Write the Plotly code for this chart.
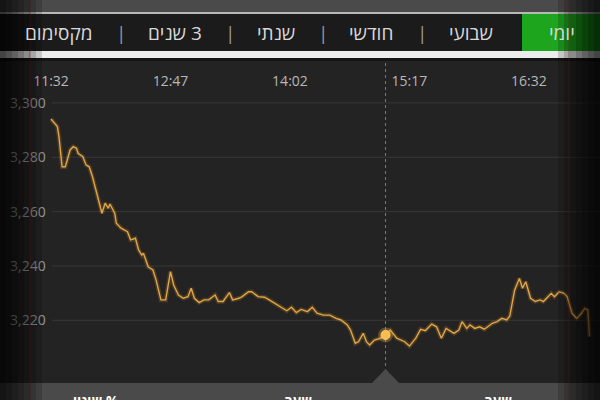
import plotly.graph_objects as go

DAY = "2024-01-01 "

TIMES = ["11:32","11:35","11:36","11:37","11:39","11:41","11:44","11:46","11:48","11:49",
         "11:52","11:54","11:56","11:58","12:02","12:04","12:06","12:08","12:09","12:12",
         "12:13","12:16","12:20","12:22","12:25","12:27","12:29","12:30","12:33","12:36",
         "12:38","12:41","12:44","12:47","12:49","12:52","12:55","12:58","13:00","13:02",
         "13:05","13:08","13:11","13:15","13:17","13:20","13:24","13:26","13:30","13:32",
         "13:36","13:38","13:42","13:46","13:49","13:54","13:58","14:00","14:03","14:06",
         "14:09","14:13","14:16","14:19","14:23","14:27","14:31","14:34","14:38","14:40",
         "14:43","14:45","14:48","14:50","14:52","14:55","14:59","15:02","15:05","15:09",
         "15:14","15:17","15:21","15:24","15:27","15:31","15:34","15:37","15:40","15:45",
         "15:48","15:50","15:53","15:55","15:58","16:01","16:04","16:09","16:12","16:15",
         "16:18","16:20","16:23","16:26","16:28","16:30","16:33","16:36","16:39","16:41",
         "16:44","16:46","16:48","16:51","16:54","16:56","16:59","17:02","17:05","17:07",
         "17:09","17:10"]

VALUES = [3294.1,3291.9,3291.3,3287.6,3276.5,3276.5,3282.7,3283.9,3283.3,3281.5,
          3280.2,3277.2,3276.5,3272.9,3264.3,3259.4,3263.1,3261.2,3262.8,3259.4,
          3255.7,3253.9,3252.6,3249.6,3250.2,3245.9,3244.0,3244.7,3239.7,3238.5,
          3234.8,3227.5,3227.5,3237.9,3233.0,3229.3,3228.1,3228.7,3231.8,3228.1,
          3226.5,3227.5,3227.5,3229.3,3226.9,3226.9,3230.2,3227.5,3228.1,3228.7,
          3230.5,3230.5,3228.7,3228.5,3227.5,3225.6,3224.4,3223.5,3224.8,3222.8,
          3224.0,3223.2,3224.8,3222.6,3221.9,3221.9,3220.7,3220.1,3218.3,3216.4,
          3211.5,3212.1,3215.2,3212.1,3210.9,3212.7,3213.4,3214.6,3216.4,3213.4,
          3212.1,3210.5,3213.4,3216.7,3216.2,3218.6,3217.6,3213.4,3217.0,3215.2,
          3216.4,3219.5,3217.0,3218.3,3217.0,3217.6,3216.7,3218.9,3219.5,3220.7,
          3220.1,3221.6,3231.1,3235.4,3231.8,3234.2,3228.1,3226.9,3227.5,3226.9,
          3228.7,3229.9,3228.7,3230.5,3229.9,3228.7,3222.6,3220.7,3222.6,3224.4,
          3223.8,3214.0]

X_TICKS = ["11:32", "12:47", "14:02", "15:17", "16:32"]
Y_TICKS = [3220, 3240, 3260, 3280, 3300]
Y_TICK_TEXT = ["3,220", "3,240", "3,260", "3,280", "3,300"]

HOVER_TIME = "15:02"
HOVER_VALUE = 3214.6

TABS = ["יומי", "שבועי", "חודשי", "שנתי", "\u200F3 שנים", "מקסימום"]
BOTTOM_LABELS = ["שינוי %", "שער", "שער"]

X_RANGE = [DAY + "11:00:00", DAY + "17:16:36"]
Y_RANGE = [3190.65, 3337.9]

W, H = 600, 400
def px(x):
    return x / W
def py(y):
    return 1 - y / H

FONT = "Open Sans, Liberation Sans, DejaVu Sans, sans-serif"

xs = [DAY + t for t in TIMES]

fig = go.Figure()
fig.add_trace(go.Scatter(x=xs, y=VALUES, mode="lines",
                         line=dict(color="rgba(230,150,40,0.20)", width=4.5),
                         hoverinfo="skip", showlegend=False))
fig.add_trace(go.Scatter(x=xs, y=VALUES, mode="lines",
                         line=dict(color="#e0a545", width=1.4),
                         showlegend=False))
fig.add_trace(go.Scatter(x=[DAY + HOVER_TIME], y=[HOVER_VALUE], mode="markers",
                         marker=dict(size=15, color="rgba(250,180,60,0.30)"),
                         showlegend=False))
fig.add_trace(go.Scatter(x=[DAY + HOVER_TIME], y=[HOVER_VALUE], mode="markers",
                         marker=dict(size=9, color="#f8bb4c",
                                     line=dict(color="#ffd27a", width=1)),
                         showlegend=False))

shapes = []
# gridlines
for v in Y_TICKS:
    shapes.append(dict(type="line", xref="paper", yref="y", x0=px(52), x1=1, y0=v, y1=v,
                       line=dict(color="#383838", width=1), layer="below"))
# crosshair
shapes.append(dict(type="line", xref="x", yref="paper",
                   x0=DAY + HOVER_TIME, x1=DAY + HOVER_TIME, y0=py(372), y1=py(60),
                   line=dict(color="#7a7a7a", width=1, dash="dot"), layer="below"))
# top strip
shapes.append(dict(type="rect", xref="paper", yref="paper", x0=0, x1=1, y0=py(12), y1=1,
                   fillcolor="#4a4a4a", line_width=0, layer="above"))
shapes.append(dict(type="rect", xref="paper", yref="paper", x0=0, x1=1, y0=py(14), y1=py(12),
                   fillcolor="#b8b8b8", line_width=0, layer="above"))
# tab bar
shapes.append(dict(type="rect", xref="paper", yref="paper", x0=0, x1=1, y0=py(51), y1=py(14),
                   fillcolor="#1b1b1b", line_width=0, layer="above"))
shapes.append(dict(type="rect", xref="paper", yref="paper", x0=px(522), x1=1, y0=py(51), y1=py(14),
                   fillcolor="#1ea51e", line_width=0, layer="above"))
# white stripe
shapes.append(dict(type="rect", xref="paper", yref="paper", x0=0, x1=1, y0=py(58), y1=py(51),
                   fillcolor="#ececec", line_width=0, layer="above"))
shapes.append(dict(type="rect", xref="paper", yref="paper", x0=0, x1=1, y0=py(61), y1=py(58),
                   fillcolor="#151515", line_width=0, layer="above"))
# bottom bar
shapes.append(dict(type="rect", xref="paper", yref="paper", x0=0, x1=1, y0=0, y1=py(383),
                   fillcolor="#4a4a4a", line_width=0, layer="above"))
shapes.append(dict(type="path", xref="x", yref="paper", xsizemode="pixel",
                   xanchor=DAY + HOVER_TIME,
                   path=f"M -14,{py(383.5)} L 0,{py(369)} L 14,{py(383.5)} Z",
                   fillcolor="#4a4a4a", line_width=0, layer="above"))
# faint red edge lines
for xr in (30, 569):
    shapes.append(dict(type="line", xref="paper", yref="paper", x0=px(xr), x1=px(xr), y0=0, y1=1,
                       line=dict(color="rgba(140,20,20,0.45)", width=1), layer="above"))
# vignette
for i in range(7):
    w = (i + 1) * 6
    shapes.append(dict(type="rect", xref="paper", yref="paper", x0=0, x1=px(w), y0=0, y1=1,
                       fillcolor="black", opacity=0.16, line_width=0, layer="above"))
    shapes.append(dict(type="rect", xref="paper", yref="paper", x0=1 - px(w), x1=1, y0=0, y1=1,
                       fillcolor="black", opacity=0.16, line_width=0, layer="above"))

annotations = []
tab_x = [562, 471, 371, 276, 175, 59]
for lbl, x in zip(TABS, tab_x):
    annotations.append(dict(text=lbl, x=px(x), y=py(33), xref="paper", yref="paper",
                            showarrow=False, xanchor="center", yanchor="middle",
                            font=dict(family=FONT, size=19, color="#d8d8d8")))
for x in [422, 323, 230, 121]:
    annotations.append(dict(text="|", x=px(x), y=py(33), xref="paper", yref="paper",
                            showarrow=False, xanchor="center", yanchor="middle",
                            font=dict(family=FONT, size=19, color="#9a9a9a")))
bottom_x = [96, 298, 498]
for lbl, x in zip(BOTTOM_LABELS, bottom_x):
    annotations.append(dict(text="<b>" + lbl + "</b>", x=px(x), y=py(389), xref="paper", yref="paper",
                            showarrow=False, xanchor="center", yanchor="top",
                            font=dict(family=FONT, size=14, color="#ffffff")))

fig.update_layout(
    width=W, height=H,
    margin=dict(l=0, r=0, t=0, b=0),
    paper_bgcolor="#232323", plot_bgcolor="#232323",
    showlegend=False,
    xaxis=dict(domain=[0, 1], range=X_RANGE, type="date",
               tickvals=[DAY + t for t in X_TICKS], ticktext=X_TICKS,
               side="top", anchor="free", position=py(89),
               showgrid=False, zeroline=False, showline=False, ticks="",
               tickfont=dict(family=FONT, size=14, color="#b8b8b8")),
    yaxis=dict(domain=[0, 1], range=Y_RANGE,
               tickvals=Y_TICKS, ticktext=Y_TICK_TEXT,
               ticklabelposition="inside", ticklabelstandoff=7,
               showgrid=False, zeroline=False, showline=False, ticks="",
               tickfont=dict(family=FONT, size=14, color="#9a9a9a")),
    shapes=shapes,
    annotations=annotations,
)

fig.write_html("out.html", config={"displayModeBar": False},
               post_script="document.body.style.margin='0';document.body.style.overflow='hidden';")
